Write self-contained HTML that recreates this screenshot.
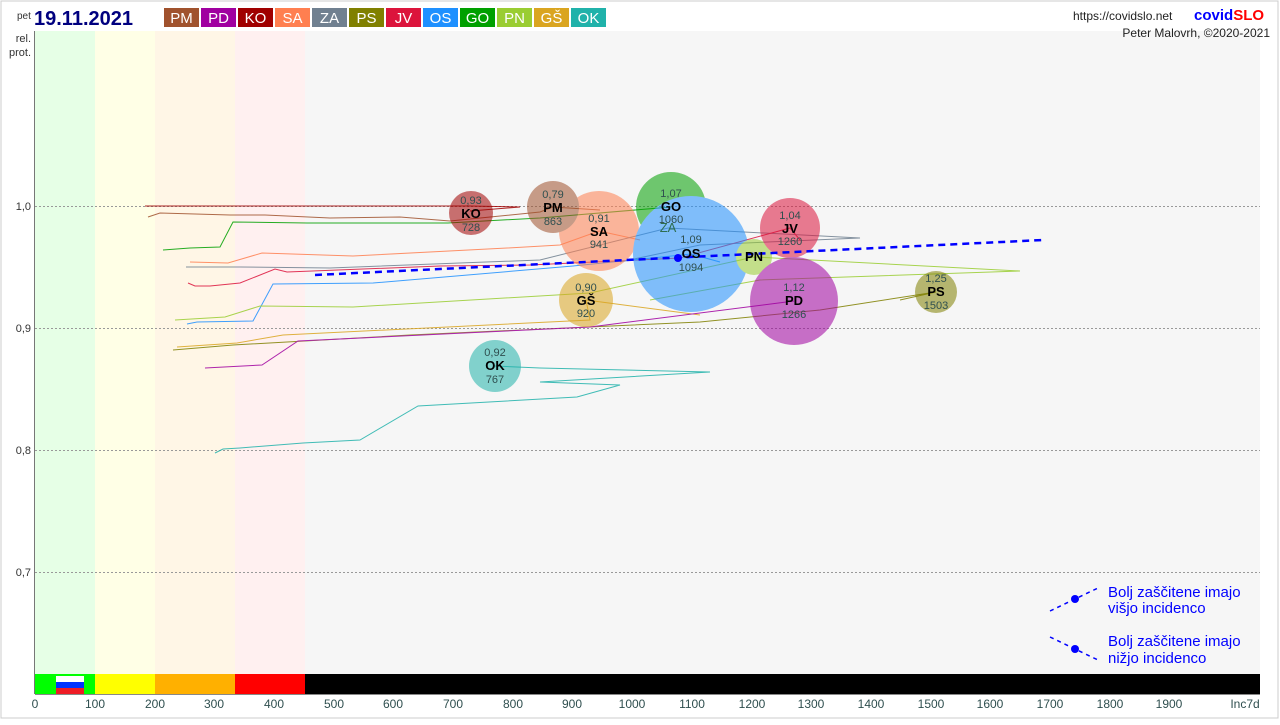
<!DOCTYPE html>
<html><head><meta charset="utf-8"><style>
body{margin:0;background:#fff;font-family:"Liberation Sans",sans-serif;}
svg text{font-family:"Liberation Sans",sans-serif;}
</style></head><body>
<svg width="1280" height="720" viewBox="0 0 1280 720" xmlns="http://www.w3.org/2000/svg">
<rect x="0" y="0" width="1280" height="720" fill="#fff"/>
<rect x="1" y="1" width="1277" height="717" fill="none" stroke="#ccc"/>
<rect x="35" y="31" width="1225" height="643" fill="#f6f6f6"/>
<rect x="35" y="31" width="60" height="643" fill="#e6ffe6"/>
<rect x="95" y="31" width="60" height="643" fill="#ffffe6"/>
<rect x="155" y="31" width="80" height="643" fill="#fff6e6"/>
<rect x="235" y="31" width="70" height="643" fill="#fff0f0"/>
<line x1="34.5" y1="31" x2="34.5" y2="694" stroke="#777"/>
<g stroke="#999" stroke-dasharray="2,2" stroke-width="1">
<line x1="35" y1="206.5" x2="1260" y2="206.5"/>
<line x1="35" y1="328.5" x2="1260" y2="328.5"/>
<line x1="35" y1="450.5" x2="1260" y2="450.5"/>
<line x1="35" y1="572.5" x2="1260" y2="572.5"/>
</g>
<g font-size="11" fill="#333" text-anchor="end">
<text x="31" y="210">1,0</text><text x="31" y="332">0,9</text><text x="31" y="454">0,8</text><text x="31" y="576">0,7</text>
<text x="31" y="42">rel.</text><text x="31" y="56">prot.</text>
</g>
<rect x="35" y="674" width="60" height="20" fill="#00ff00"/>
<rect x="95" y="674" width="60" height="20" fill="#ffff00"/>
<rect x="155" y="674" width="80" height="20" fill="#ffb000"/>
<rect x="235" y="674" width="70" height="20" fill="#ff0000"/>
<rect x="305" y="674" width="955" height="20" fill="#000"/>
<rect x="56" y="676" width="28" height="6" fill="#fff"/>
<rect x="56" y="682" width="28" height="6" fill="#0033ff"/>
<rect x="56" y="688" width="28" height="6" fill="#ee1c25"/>
<line x1="35" y1="694.5" x2="1260" y2="694.5" stroke="#888"/>
<g font-size="12" fill="#2f4f4f" text-anchor="middle">
<text x="35" y="708">0</text><text x="95" y="708">100</text><text x="155" y="708">200</text><text x="214" y="708">300</text><text x="274" y="708">400</text><text x="334" y="708">500</text><text x="393" y="708">600</text><text x="453" y="708">700</text><text x="513" y="708">800</text><text x="572" y="708">900</text><text x="632" y="708">1000</text><text x="692" y="708">1100</text><text x="752" y="708">1200</text><text x="811" y="708">1300</text><text x="871" y="708">1400</text><text x="931" y="708">1500</text><text x="990" y="708">1600</text><text x="1050" y="708">1700</text><text x="1110" y="708">1800</text><text x="1169" y="708">1900</text><text x="1245" y="708">Inc7d</text>
</g>
<text x="17" y="19" font-size="10" fill="#333">pet</text>
<text x="34" y="25" font-size="20" font-weight="bold" fill="#00007f">19.11.2021</text>
<g font-size="15" fill="#fff" text-anchor="middle">
<rect x="164" y="8" width="35" height="19" fill="#a0522d"/><text x="181.5" y="23">PM</text>
<rect x="201" y="8" width="35" height="19" fill="#a000a0"/><text x="218.5" y="23">PD</text>
<rect x="238" y="8" width="35" height="19" fill="#a00000"/><text x="255.5" y="23">KO</text>
<rect x="275" y="8" width="35" height="19" fill="#ff7f50"/><text x="292.5" y="23">SA</text>
<rect x="312" y="8" width="35" height="19" fill="#708090"/><text x="329.5" y="23">ZA</text>
<rect x="349" y="8" width="35" height="19" fill="#808000"/><text x="366.5" y="23">PS</text>
<rect x="386" y="8" width="35" height="19" fill="#dc143c"/><text x="403.5" y="23">JV</text>
<rect x="423" y="8" width="35" height="19" fill="#1e90ff"/><text x="440.5" y="23">OS</text>
<rect x="460" y="8" width="35" height="19" fill="#00a000"/><text x="477.5" y="23">GO</text>
<rect x="497" y="8" width="35" height="19" fill="#9acd32"/><text x="514.5" y="23">PN</text>
<rect x="534" y="8" width="35" height="19" fill="#daa520"/><text x="551.5" y="23">GŠ</text>
<rect x="571" y="8" width="35" height="19" fill="#20b2aa"/><text x="588.5" y="23">OK</text>
</g>
<text x="1073" y="20" font-size="12" fill="#222">https://covidslo.net</text>
<text x="1194" y="20" font-size="15" font-weight="bold" fill="#0000ff">covid<tspan fill="#ff0000">SLO</tspan></text>
<text x="1270" y="37" font-size="12" fill="#222" text-anchor="end">Peter Malovrh, ©2020-2021</text>
<g fill="none" stroke-width="1" opacity="0.85">
<polyline stroke="#a00000" points="145,206 300,206 470,206 520,207 470,211"/>
<polyline stroke="#a0522d" points="148,217 160,213 230,215 265,215 330,218 400,217 450,221 540,212 553,207 600,210"/>
<polyline stroke="#00a000" points="163,250 190,248 220,247 233,222 307,223 448,223 540,218 671,207"/>
<polyline stroke="#ff7f50" points="190,262 228,263 262,253 353,256 507,248 560,245 599,231 640,240"/>
<polyline stroke="#708090" points="186,267 240,267 330,268 540,260 668,228 860,238 700,245 620,262"/>
<polyline stroke="#dc143c" points="188,283 195,286 210,286 240,283 275,269 287,272 440,266 530,265 680,258 790,228 800,240"/>
<polyline stroke="#1e90ff" points="187,324 197,322 253,321 273,284 373,283 573,266 691,254 720,262"/>
<polyline stroke="#9acd32" points="175,320 225,317 260,306 353,307 590,293 754,257 1020,271 760,280 650,300"/>
<polyline stroke="#daa520" points="177,347 237,343 283,335 590,320 586,300 700,315"/>
<polyline stroke="#808000" points="173,350 233,345 410,335 700,322 820,310 936,292 900,300"/>
<polyline stroke="#a000a0" points="205,368 262,365 298,341 590,327 794,301"/>
<polyline stroke="#20b2aa" points="215,453 223,449 240,448 303,443 360,440 418,406 577,397 620,385 540,382 710,372 540,368 495,366"/>
</g>
<g opacity="0.55">
<circle cx="599" cy="231" r="40" fill="#ff7f50"/>
<circle cx="553" cy="207" r="26" fill="#a0522d"/>
<circle cx="471" cy="213" r="22" fill="#a00000"/>
<circle cx="671" cy="207" r="35" fill="#00a000"/>
<circle cx="668" cy="228" r="20" fill="#708090"/>
<circle cx="691" cy="254" r="58" fill="#1e90ff"/>
<circle cx="754" cy="257" r="18" fill="#9acd32"/>
<circle cx="790" cy="228" r="30" fill="#dc143c"/>
<circle cx="794" cy="301" r="44" fill="#a000a0"/>
<circle cx="936" cy="292" r="21" fill="#808000"/>
<circle cx="586" cy="300" r="27" fill="#daa520"/>
<circle cx="495" cy="366" r="26" fill="#20b2aa"/>
</g>
<line x1="315" y1="275" x2="1043" y2="240" stroke="#0000ff" stroke-width="2.5" stroke-dasharray="7,5"/>
<circle cx="678" cy="258" r="4" fill="#0000ff"/>
<g text-anchor="middle" fill="#2f4f4f" font-size="11">
<text x="471" y="204">0,93</text><text x="471" y="231">728</text>
<text x="553" y="198">0,79</text><text x="553" y="225">863</text>
<text x="599" y="222">0,91</text><text x="599" y="248">941</text>
<text x="671" y="197">1,07</text><text x="671" y="223">1060</text>
<text x="691" y="243">1,09</text><text x="691" y="271">1094</text>
<text x="790" y="219">1,04</text><text x="790" y="245">1260</text>
<text x="794" y="291">1,12</text><text x="794" y="318">1266</text>
<text x="936" y="282">1,25</text><text x="936" y="309">1503</text>
<text x="586" y="291">0,90</text><text x="586" y="317">920</text>
<text x="495" y="356">0,92</text><text x="495" y="383">767</text>
</g>
<g text-anchor="middle" fill="#000" font-size="13" font-weight="bold">
<text x="471" y="218">KO</text><text x="553" y="212">PM</text><text x="599" y="236">SA</text>
<text x="671" y="211">GO</text><text x="668" y="232" fill="#2e6e50" font-weight="normal">ZA</text>
<text x="691" y="258">OS</text><text x="754" y="261">PN</text><text x="790" y="233">JV</text>
<text x="794" y="305">PD</text><text x="936" y="296">PS</text><text x="586" y="305">GŠ</text><text x="495" y="370">OK</text>
</g>
<line x1="1050" y1="611" x2="1098" y2="588" stroke="#0000ff" stroke-width="1.5" stroke-dasharray="4,4"/>
<circle cx="1075" cy="599" r="4" fill="#0000ff"/>
<line x1="1050" y1="637" x2="1098" y2="660" stroke="#0000ff" stroke-width="1.5" stroke-dasharray="4,4"/>
<circle cx="1075" cy="649" r="4" fill="#0000ff"/>
<g fill="#0000ff" font-size="15">
<text x="1108" y="597">Bolj  zaščitene imajo</text><text x="1108" y="613">višjo incidenco</text>
<text x="1108" y="646">Bolj  zaščitene imajo</text><text x="1108" y="663">nižjo incidenco</text>
</g>
</svg>
</body></html>
